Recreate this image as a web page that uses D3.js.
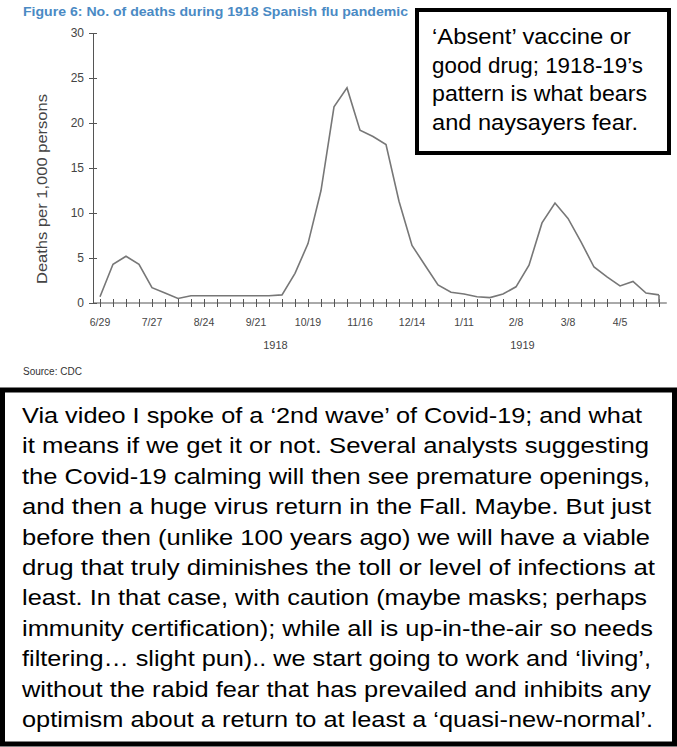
<!DOCTYPE html>
<html><head><meta charset="utf-8">
<script src="https://cdn.jsdelivr.net/npm/d3@7"></script>
<style>
body{margin:0;background:#fff}
svg{display:block;font-family:"Liberation Sans",Arial,sans-serif}
</style></head>
<body><svg width="677" height="747"></svg>
<script>
// weekly deaths per 1,000, starting 6/29/1918
const weeks = d3.range(0, 44);
const deaths = [0.7, 4.3, 5.2, 4.3, 1.7, 1.1, 0.5, 0.8, 0.8, 0.8, 0.8, 0.8, 0.8, 0.8, 0.9, 3.3,
  6.6, 12.5, 21.8, 23.9, 19.2, 18.5, 17.6, 11.3, 6.4, 4.2, 2.0, 1.2, 1.0, 0.7, 0.6, 1.0,
  1.8, 4.2, 8.9, 11.1, 9.4, 6.8, 4.0, 2.9, 1.9, 2.4, 1.1, 0.9];
const tickLabels = ["6/29", "7/27", "8/24", "9/21", "10/19", "11/16", "12/14", "1/11", "2/8", "3/8", "4/5"];
const yTicks = [0, 5, 10, 15, 20, 25, 30];
const years = [{ label: "1918", week: 13.5 }, { label: "1919", week: 32.5 }];

const noteTop = ["‘Absent’ vaccine or", "good drug; 1918-19’s", "pattern is what bears", "and naysayers fear."];
const noteTopWidths = [199, 211, 215, 206];
const noteBottom = [
  "Via video I spoke of a ‘2nd wave’ of Covid-19; and what",
  "it means if we get it or not. Several analysts suggesting",
  "the Covid-19 calming will then see premature openings,",
  "and then a huge virus return in the Fall. Maybe. But just",
  "before then (unlike 100 years ago) we will have a viable",
  "drug that truly diminishes the toll or level of infections at",
  "least. In that case, with caution (maybe masks; perhaps",
  "immunity certification); while all is up-in-the-air so needs",
  "filtering… slight pun).. we start going to work and ‘living’,",
  "without the rabid fear that has prevailed and inhibits any",
  "optimism about a return to at least a ‘quasi-new-normal’."
];
const noteBottomWidths = [620, 627, 628, 629, 628, 633, 625, 631, 629, 629, 631];

const svg = d3.select("svg");
const x = d3.scaleLinear().domain([0, 43]).range([100, 659]);
const y = d3.scaleLinear().domain([0, 30]).range([303, 33]);
const grey = "#555";

// title
svg.append("text").attr("x", 23).attr("y", 16)
  .attr("font-size", 13.5).attr("font-weight", "bold").attr("fill", "#4a8ac4")
  .attr("textLength", 385).attr("lengthAdjust", "spacingAndGlyphs")
  .text("Figure 6: No. of deaths during 1918 Spanish flu pandemic");

// y axis
const ya = svg.append("g").attr("transform", "translate(93,0)")
  .call(d3.axisLeft(y).tickValues(yTicks).tickSize(0).tickPadding(9));
ya.select(".domain").attr("stroke", grey);
ya.selectAll(".tick line").attr("x1", -4).attr("x2", 4).attr("stroke", grey);
ya.selectAll("text").attr("font-size", 12).attr("fill", "#444").attr("font-family", "Liberation Sans");

svg.append("text").attr("transform", "translate(47,189) rotate(-90)")
  .attr("text-anchor", "middle").attr("font-size", 15).attr("fill", "#444")
  .attr("textLength", 190).attr("lengthAdjust", "spacingAndGlyphs")
  .text("Deaths per 1,000 persons");

// x axis
const xa = svg.append("g").attr("transform", `translate(0,${y(0)})`)
  .call(d3.axisBottom(x).tickValues(d3.range(0, 44)).tickSize(0).tickFormat(""));
xa.select(".domain").attr("d", `M93,0H${x(43.6)}`).attr("stroke", grey);
xa.selectAll(".tick line").attr("y1", -4).attr("y2", 4).attr("stroke", grey);
svg.append("g").selectAll("text").data(tickLabels).join("text")
  .attr("x", (d, i) => x(i * 4)).attr("y", y(0) + 23)
  .attr("text-anchor", "middle").attr("font-size", 10.5).attr("fill", "#444").text(d => d);
svg.append("g").selectAll("text").data(years).join("text")
  .attr("x", d => x(d.week)).attr("y", 349)
  .attr("text-anchor", "middle").attr("font-size", 11).attr("fill", "#444").text(d => d.label);

// line
const line = d3.line().x((d, i) => x(weeks[i])).y(d => y(d));
svg.append("path").datum(deaths).attr("d", line)
  .attr("fill", "none").attr("stroke", "#777").attr("stroke-width", 1.6);
svg.append("path").attr("d", `M${x(43)},${y(deaths[43])}V${y(0)}`)
  .attr("stroke", "#777").attr("stroke-width", 1.6);

svg.append("text").attr("x", 23).attr("y", 375).attr("font-size", 10).attr("fill", "#333").text("Source: CDC");

// note boxes
svg.append("rect").attr("x", 417).attr("y", 10).attr("width", 252).attr("height", 143)
  .attr("fill", "#fff").attr("stroke", "#000").attr("stroke-width", 4);
svg.append("g").selectAll("text").data(noteTop).join("text")
  .attr("x", 432).attr("y", (d, i) => 44 + i * 28.6)
  .attr("font-size", 21.5).attr("fill", "#000")
  .attr("textLength", (d, i) => noteTopWidths[i]).attr("lengthAdjust", "spacingAndGlyphs")
  .text(d => d);

svg.append("rect").attr("x", 2.5).attr("y", 390).attr("width", 672).attr("height", 354)
  .attr("fill", "#fff").attr("stroke", "#000").attr("stroke-width", 5);
svg.append("g").selectAll("text").data(noteBottom).join("text")
  .attr("x", 22).attr("y", (d, i) => 423 + i * 30.4)
  .attr("font-size", 22.5).attr("fill", "#000")
  .attr("textLength", (d, i) => noteBottomWidths[i]).attr("lengthAdjust", "spacingAndGlyphs")
  .text(d => d);
</script></body></html>
